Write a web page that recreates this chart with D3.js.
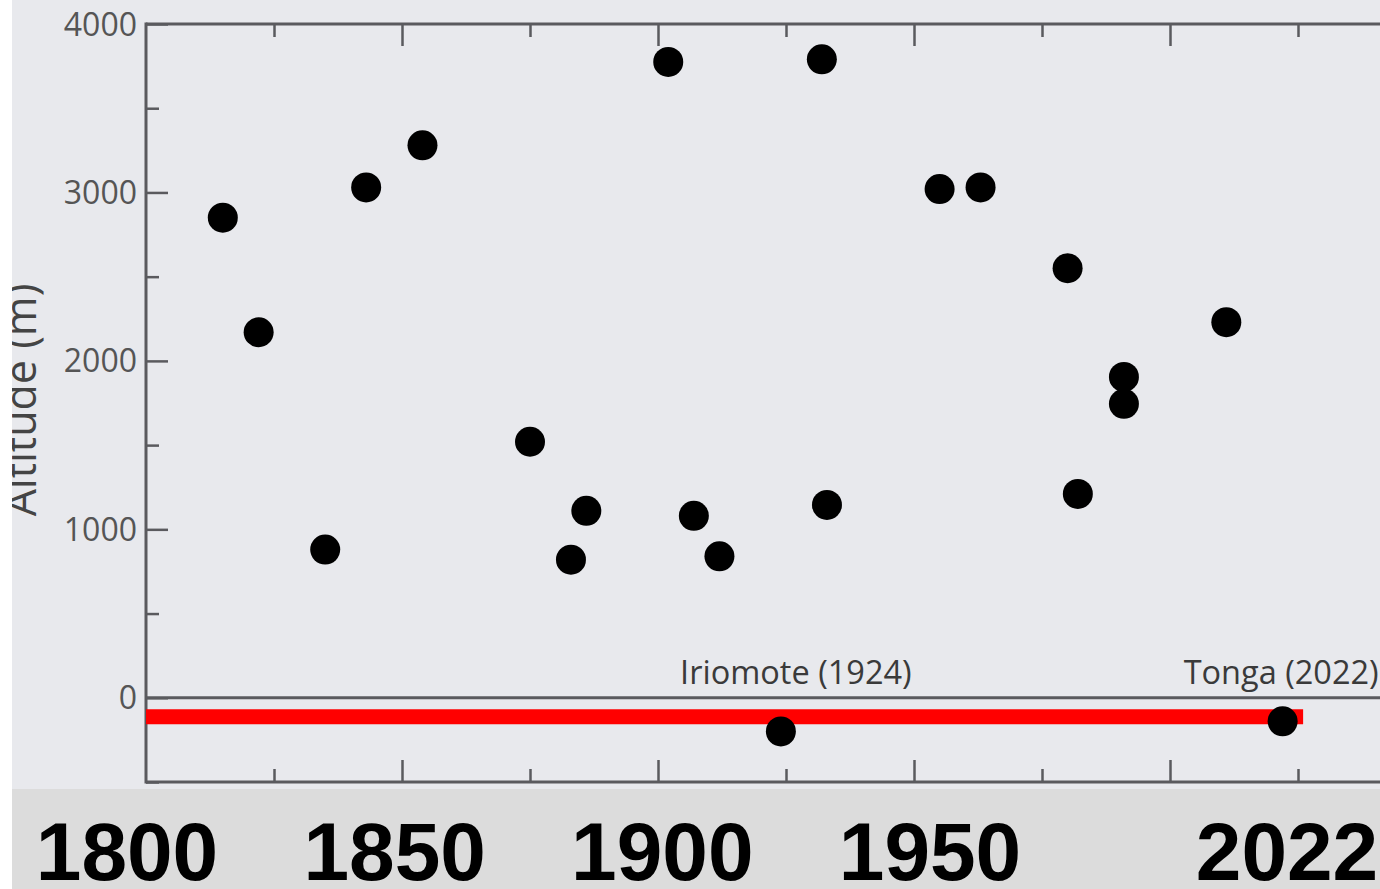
<!DOCTYPE html>
<html>
<head>
<meta charset="utf-8">
<script src="https://cdn.jsdelivr.net/npm/d3@7"></script>
<style>
  html, body { margin: 0; padding: 0; background: #ffffff; overflow: hidden; }
  svg { display: block; }
</style>
</head>
<body>
<div id="chart"></div>
<script>
// eruption years and plume altitudes (m)
var years     = [1815, 1822, 1835, 1843, 1854, 1875, 1883, 1886, 1902, 1907, 1912, 1924, 1932, 1933, 1955, 1963, 1980, 1982, 1991, 1991, 2011, 2022];
var altitudes = [2850, 2170, 880, 3030, 3280, 1520, 820, 1110, 3775, 1080, 840, -200, 3790, 1145, 3020, 3030, 2550, 1210, 1905, 1745, 2230, -140];

// named events above the zero line
var noteNames = ["Iriomote (1924)", "Tonga (2022)"];
var noteYears = [1924, 2022];

// red bar under sea level
var redYears = [1800, 2026];
var redAlt   = -113;

// axis ticks
var yTicks      = [0, 1000, 2000, 3000, 4000];
var yMinorTicks = [-500, 500, 1500, 2500, 3500];
var xMajorTicks = [1850, 1900, 1950, 2000, 2050];
var xMinorTicks = [1825, 1875, 1925, 1975, 2025];

// big year labels on the band
var bandLabels = ["1800", "1850", "1900", "1950", "2022"];

var W = 1380, H = 889;

const svg = d3.select('#chart')
  .append('svg')
  .attr('width', W)
  .attr('height', H);

// slide background
svg.append('rect').attr('x', 12).attr('y', 0).attr('width', W - 12).attr('height', 789).attr('fill', '#e8e9ed');
svg.append('rect').attr('x', 12).attr('y', 789).attr('width', W - 12).attr('height', H - 789).attr('fill', '#dcdcdc');

// scales (plot runs past the right edge, same as the photo)
var x = d3.scaleLinear().domain([1800, 2050]).range([146, 1426]);
var y = d3.scaleLinear().domain([-500, 4000]).range([782, 24]);

var axisColor = '#5a5a5e';

// y axis label, partly cut by the left edge
svg.append('text')
  .attr('transform', 'translate(36,400) rotate(-90)')
  .attr('text-anchor', 'middle')
  .style('font-family', '"Open Sans", sans-serif')
  .style('font-size', '43px')
  .attr('fill', '#444')
  .text('Altitude (m)');

// left white strip covers the label
svg.append('rect').attr('x', 0).attr('y', 0).attr('width', 12).attr('height', H).attr('fill', '#ffffff');

// y axis
var yAxis = d3.axisRight(y).tickValues(yTicks).tickSize(22).tickFormat('');
var gy = svg.append('g').attr('transform', 'translate(146,0)').call(yAxis);
gy.select('.domain').remove();
gy.selectAll('line').attr('stroke', axisColor).attr('stroke-width', 2.5);

var gym = svg.append('g').attr('transform', 'translate(146,0)')
  .call(d3.axisRight(y).tickValues(yMinorTicks).tickSize(13).tickFormat(''));
gym.select('.domain').remove();
gym.selectAll('line').attr('stroke', axisColor).attr('stroke-width', 2.5);

svg.selectAll('.ylab')
  .data(yTicks)
  .enter()
  .append('text')
  .attr('class', 'ylab')
  .attr('x', 137)
  .attr('y', d => y(d))
  .attr('dy', '0.36em')
  .attr('text-anchor', 'end')
  .style('font-family', '"Open Sans", sans-serif')
  .style('font-size', '32px')
  .attr('fill', '#555')
  .text(d => d);

// x axes, bottom and top, ticks inward
function xTicks(g, orient, vals, size) {
  var ax = (orient === 'bottom' ? d3.axisTop(x) : d3.axisBottom(x)).tickValues(vals).tickSize(size).tickFormat('');
  g.call(ax);
  g.select('.domain').remove();
  g.selectAll('line').attr('stroke', axisColor).attr('stroke-width', 2.5);
}
xTicks(svg.append('g').attr('transform', 'translate(0,782)'), 'bottom', xMajorTicks, 22);
xTicks(svg.append('g').attr('transform', 'translate(0,782)'), 'bottom', xMinorTicks, 13);
xTicks(svg.append('g').attr('transform', 'translate(0,24)'), 'top', xMajorTicks, 22);
xTicks(svg.append('g').attr('transform', 'translate(0,24)'), 'top', xMinorTicks, 13);

// frame lines
svg.append('line').attr('x1', 146).attr('x2', W).attr('y1', y(4000)).attr('y2', y(4000))
  .attr('stroke', axisColor).attr('stroke-width', 3);
svg.append('line').attr('x1', 146).attr('x2', W).attr('y1', y(-500)).attr('y2', y(-500))
  .attr('stroke', axisColor).attr('stroke-width', 3);
svg.append('line').attr('x1', 146).attr('x2', 146).attr('y1', y(4000) - 1.5).attr('y2', y(-500) + 1.5)
  .attr('stroke', axisColor).attr('stroke-width', 3);

// sea level line
svg.append('line').attr('x1', 146).attr('x2', W).attr('y1', y(0)).attr('y2', y(0))
  .attr('stroke', axisColor).attr('stroke-width', 3);

// red bar
svg.append('line')
  .attr('x1', x(redYears[0])).attr('x2', x(redYears[1]))
  .attr('y1', y(redAlt)).attr('y2', y(redAlt))
  .attr('stroke', '#ff0000').attr('stroke-width', 15);

// event labels
svg.selectAll('.note')
  .data(noteNames)
  .enter()
  .append('text')
  .attr('class', 'note')
  .attr('x', (d, i) => x(noteYears[i]) + (i === 0 ? 15 : 0))
  .attr('y', y(0) - 14)
  .attr('text-anchor', (d, i) => i === 0 ? 'middle' : 'start')
  .attr('dx', (d, i) => i === 0 ? 0 : -99)
  .style('font-family', '"Open Sans", sans-serif')
  .style('font-size', '32.5px')
  .attr('fill', '#3a3a3a')
  .text(d => d);

// dots
svg.selectAll('circle')
  .data(years)
  .enter()
  .append('circle')
  .attr('cx', d => x(d))
  .attr('cy', (d, i) => y(altitudes[i]))
  .attr('r', 15)
  .attr('fill', '#000');

// big year labels in the grey band, spaced on their own, last one held inside the page
var band = d3.scaleLinear().domain([1800, 1950]).range([127, 930]);
svg.selectAll('.band')
  .data(bandLabels)
  .enter()
  .append('text')
  .attr('class', 'band')
  .attr('x', d => Math.min(W - 93, band(+d)))
  .attr('y', 880)
  .attr('text-anchor', 'middle')
  .style('font-family', '"Liberation Sans", Arial, sans-serif')
  .style('font-weight', 'bold')
  .style('font-size', '82px')
  .attr('fill', '#000')
  .text(d => d);
</script>
</body>
</html>
